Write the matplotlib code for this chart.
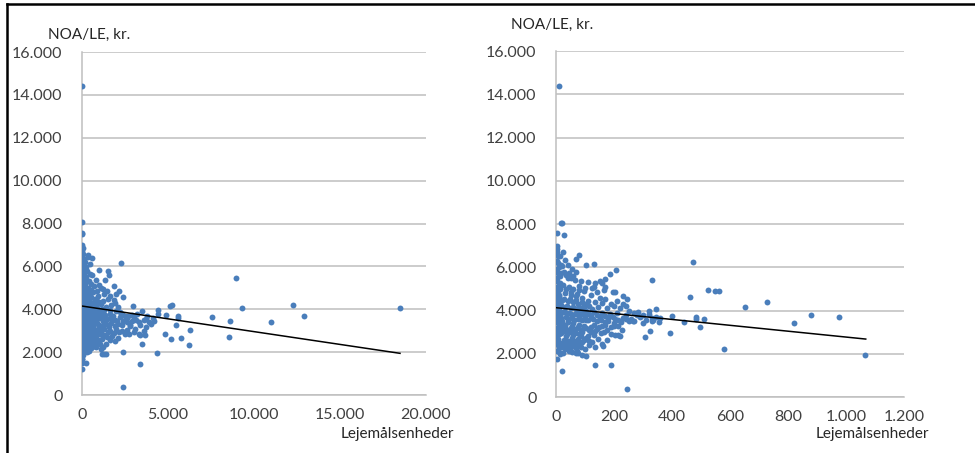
import matplotlib
matplotlib.use("Agg")
import numpy as np
from matplotlib import pyplot as plt
from matplotlib.lines import Line2D
from matplotlib.ticker import FuncFormatter, MultipleLocator

plt.rcParams["font.family"] = ["Lato", "DejaVu Sans"]

# Left panel: x = lejemålsenheder (0-20.000), y = NOA/LE kr.
left_x = [
    0, 0, 0, 20, 2250, 370, 8935, 9320, 12290, 12930, 10970, 8600, 8545, 7575, 18490,
    6260, 6220, 5775, 5195, 4805, 5465, 5580, 5560, 5210, 5090, 4860, 4440, 4440, 4380,
    3390, 3510, 3660, 2400, 2360, 230, 0, 0, 0, 1180, 1300, 1400, 1100, 2965, 2360,
    2150, 1860, 1530, 1560, 1000, 1350, 580,
    20, 30, 10, 50, 15, 40, 60, 20, 80, 10, 30, 70, 20, 50, 90, 10, 40, 60, 20, 100,
    30, 80, 15, 50, 120, 25, 70, 10, 40, 90, 20, 60, 130, 30, 80, 10, 50, 100, 20, 70,
    40, 15, 90, 30, 60, 10, 50, 20, 35, 25, 10,
    200, 300, 450, 250, 400, 600, 180, 350, 500, 700, 850, 220, 380, 550, 750, 950,
    160, 300, 480, 650, 820, 1000, 250, 420, 580, 720, 900, 180, 340, 520, 680, 860,
    1000, 260, 440, 600, 780, 950, 200, 360, 540, 700, 880, 300, 460, 620, 800, 980,
    240, 400, 560, 740, 920, 280, 450, 620, 800, 200, 380, 560, 330, 500, 700, 900,
    250, 430, 600,
    1100, 1300, 1500, 1200, 1700, 1400, 1900, 2100, 1150, 1600, 2000, 2300, 1250, 1800,
    2200, 2500, 1050, 1450, 1900, 2400, 1350, 1700, 2100, 2600, 1200, 1550, 2000, 2800,
    1100, 1500, 1850, 2300, 1300, 1750, 2500, 1150, 1600, 2100, 1400, 1900, 1250,
    2700, 3000, 3200, 3500, 3800, 4100, 2900, 3300, 3600, 3900, 4200, 2800, 3100, 3400,
    3700, 4000, 3000, 3300, 3600, 2750, 3400, 2600, 3150, 3700,
    120, 260, 520, 80, 310, 640, 900, 150, 430, 700, 1120, 60, 330, 600, 880, 1300,
    140, 400, 760, 1150, 1600, 60, 290, 530, 840, 1250, 1750, 2050, 170, 420, 660, 1000,
    1400, 1900, 2300, 90, 350, 600, 900, 1300, 1650, 2150, 180, 480, 720, 1050, 1450,
    110, 360, 650, 950, 200, 520, 800, 1050, 140, 380, 60, 270, 160, 240, 110, 350, 480,
    800, 1000, 1250, 1450, 1650, 1850, 2000, 230, 560, 180, 460, 720, 1050, 1350, 1650,
    2200, 2600, 2900,
]
left_y = [
    14400, 8050, 7550, 7500, 6170, 6515, 5470, 4045, 4210, 3685, 3420, 3470, 2690, 3640, 4075,
    3030, 2330, 2640, 2600, 2830, 3265, 3700, 3600, 4200, 4150, 3730, 3950, 3800, 1945,
    1460, 2400, 2790, 390, 2000, 1480, 1220, 1700, 1950, 1930, 1930, 1930, 2130, 4150, 4570,
    4850, 5070, 5800, 5600, 5850, 5350, 6400,
    7000, 6850, 6700, 6600, 6450, 6300, 6150, 6000, 5900, 5800, 5700, 5600, 5500, 5400, 5300,
    5200, 5100, 5000, 4900, 4800, 4700, 4600, 4500, 4400, 4300, 4200, 4100, 4000, 3900, 3800,
    3700, 3600, 3500, 3400, 3300, 3200, 3100, 3000, 2900, 2800, 2700, 2600, 2500, 2400, 2300,
    2200, 2100, 2000, 1850, 1700, 1500,
    6200, 5800, 6100, 5500, 5300, 5600, 5100, 5000, 4900, 5100, 4850, 4700, 4650, 4550, 4500,
    4600, 4400, 4350, 4300, 4250, 4200, 4350, 4100, 4050, 4000, 3950, 4050, 3900, 3850, 3800,
    3750, 3850, 3700, 3650, 3600, 3550, 3500, 3600, 3450, 3400, 3350, 3300, 3350, 3200, 3150,
    3100, 3050, 3150, 3000, 2950, 2900, 2850, 2950, 2750, 2650, 2600, 2700, 2550, 2450, 2400,
    2300, 2200, 2350, 2450, 2150, 2050, 2250,
    5000, 4700, 4500, 4400, 4200, 4100, 4300, 4100, 4000, 3950, 3900, 3800, 3800, 3700,
    3650, 3700, 3600, 3550, 3500, 3450, 3400, 3350, 3300, 3400, 3200, 3150, 3100, 3250,
    3000, 2950, 2900, 3000, 2800, 2750, 2850, 2600, 2550, 2650, 2400, 2500, 2250,
    3700, 3600, 3800, 3900, 3700, 3600, 3450, 3400, 3500, 3400, 3450, 3200, 3100, 3250,
    3150, 3300, 2950, 2850, 3000, 2850, 2800, 3050, 3500, 3550,
    5650, 5250, 5200, 4950, 4850, 4800, 4400, 4550, 4450, 4350, 4250, 4250, 4150, 4180, 3950, 3950,
    3750, 3700, 3650, 3650, 3600, 3550, 3520, 3480, 3420, 3450, 3550, 3450, 3320, 3280, 3230, 3250,
    3300, 3200, 3250, 3080, 3050, 2980, 3050, 3100, 3000, 2950, 2850, 2780, 2700, 2850, 2700,
    2620, 2580, 2500, 2550, 2350, 2320, 2250, 2400, 2100, 2150, 1950, 2000, 4950, 5950, 6350, 6450, 5650,
    5350, 5150, 4950, 4850, 4600, 4450, 4700, 4400, 4300, 4050, 3920, 3820, 3850, 3750, 3800,
    3850, 3600, 3750,
]

# Right panel: x = lejemålsenheder (0-1.200)
right_x = [
    9, 17, 21, 5, 29, 474, 80, 70, 132, 105, 206, 331, 523, 548, 563, 461, 652, 729, 879,
    977, 822, 1064, 580, 245, 190, 136, 22, 2, 393, 306, 324, 497, 482, 484, 510, 440,
    400, 345, 322, 332, 334, 355, 360, 283, 300, 270, 245, 232, 240, 205, 165, 163, 205,
    214, 222, 228, 160, 170, 185, 130, 133, 90, 105, 70, 72, 12, 22,
    2, 5, 3, 8, 2, 6, 10, 3, 7, 12, 2, 5, 9, 3, 14, 6, 2, 10, 4, 8, 15, 3, 6, 11, 2, 7,
    13, 4, 9, 2, 6, 12, 3, 8, 5, 10, 2, 7, 4, 12, 6, 9, 3, 15,
    25, 30, 40, 55, 70, 35, 50, 65, 85, 25, 45, 60, 80, 95, 30, 50, 70, 90, 20, 40, 60,
    75, 95, 30, 50, 70, 85, 25, 45, 65, 80, 100, 35, 55, 75, 90, 20, 40, 60, 80, 95, 30,
    50, 70, 85, 25, 45, 65, 80, 35, 55, 75, 95, 40, 60, 80, 30, 50, 70, 45, 25,
    110, 125, 140, 120, 150, 170, 110, 135, 160, 190, 115, 145, 175, 200, 220, 105, 130,
    160, 185, 210, 240, 120, 150, 180, 205, 230, 260, 110, 140, 170, 200, 225, 250, 130,
    160, 190, 215, 105, 140, 175, 120, 155, 190, 110, 145, 175, 125, 160, 115, 135, 100,
    265, 290, 310, 330, 270, 300, 345,
    12, 18, 28, 42, 15, 33, 52, 72, 10, 27, 48, 68, 88, 105, 18, 38, 58, 78, 98, 125,
    12, 30, 52, 72, 92, 112, 140, 170, 195, 18, 40, 62, 82, 105, 128, 155, 180, 215, 240,
    12, 32, 55, 75, 98, 120, 148, 170, 200, 22, 42, 62, 90, 112, 135, 165, 18, 38, 58,
    85, 105, 130, 28, 48, 68, 90, 115, 20, 42, 62, 85, 32, 55, 75, 18, 22, 45, 60, 80,
    100, 150, 170, 195, 210, 230, 250, 280, 320,
]
right_y = [
    14370, 8060, 8060, 7600, 7505, 6240, 6550, 6400, 6150, 6100, 5870, 5400, 4950, 4900,
    4900, 4610, 4150, 4390, 3790, 3700, 3405, 1940, 2200, 370, 1465, 1465, 1200, 1760,
    2975, 2790, 3050, 3220, 3680, 3600, 3620, 3450, 3750, 4060, 4000, 3650, 3550, 3450,
    3650, 3950, 3800, 3500, 4550, 4650, 4200, 4850, 4930, 2350, 2850, 2850, 2820, 3080,
    5250, 5450, 5700, 5100, 5250, 1950, 1880, 2050, 2150, 2050, 2300,
    7000, 6850, 6700, 6500, 6300, 6200, 6000, 5900, 5750, 5600, 5500, 5350, 5200, 5100,
    5000, 4900, 4800, 4700, 4600, 4500, 4400, 4300, 4200, 4100, 4000, 3900, 3800, 3700,
    3600, 3500, 3400, 3300, 3200, 3100, 3000, 2900, 2850, 2700, 2600, 2500, 2400, 2250,
    2150, 2000,
    6700, 6350, 6100, 5900, 5800, 5650, 5500, 5400, 5350, 5200, 5100, 5000, 4950, 4900,
    4800, 4700, 4650, 4600, 4500, 4450, 4400, 4300, 4250, 4150, 4100, 4050, 4000, 3950,
    3900, 3850, 3800, 3750, 3700, 3650, 3600, 3550, 3500, 3450, 3400, 3350, 3300, 3250,
    3200, 3150, 3100, 3050, 3000, 2950, 2900, 2800, 2750, 2700, 2650, 2600, 2500, 2450,
    2400, 2300, 2250, 2150, 2050,
    5300, 5050, 4850, 4700, 4600, 4550, 4450, 4400, 4350, 4300, 4200, 4150, 4100, 4200,
    4100, 4000, 3950, 3900, 3850, 3900, 3800, 3750, 3700, 3650, 3600, 3650, 3600, 3550,
    3500, 3450, 3400, 3450, 3500, 3350, 3300, 3250, 3300, 3200, 3150, 3100, 3000, 2950,
    2900, 2800, 2700, 2650, 2550, 2450, 2400, 2300, 2200,
    3500, 3700, 3550, 3500, 3900, 3400, 3700,
    6500, 6100, 5800, 5500, 5250, 5000, 4850, 4750, 4650, 4550, 4550, 4500, 4400, 4300,
    4250, 4200, 4150, 4150, 4100, 4050, 3950, 3950, 3850, 3900, 3850, 3850, 3800, 3750,
    3700, 3650, 3600, 3550, 3600, 3550, 3600, 3550, 3500, 3550, 3600, 3400, 3350, 3300,
    3250, 3200, 3250, 3250, 3350, 3300, 3150, 3100, 3050, 3000, 3100, 3050, 3000, 2950,
    2900, 2850, 2800, 2750, 2850, 2650, 2550, 2600, 2550, 2600, 2450, 2350, 2400, 2300,
    2200, 2100, 2050, 5750, 6050, 5750, 5600, 5150, 5050, 5350, 5100, 4850, 4450, 4300,
    4000, 3800, 3850,
]

# linear trend lines (intercept, slope, end x)
left_trend = (4150, -0.1193, 18490)
right_trend = (4130, -1.358, 1068)

y_ticks = [0, 2000, 4000, 6000, 8000, 10000, 12000, 14000, 16000]
dot_color = "#4A7EBB"
grid_color = "#BFBFBF"


def thousands(v, _pos):
    return f"{int(round(v)):,}".replace(",", ".")


fig = plt.figure(figsize=(9.75, 4.53), dpi=100)
ax1 = fig.add_axes([0.0841, 0.1280, 0.3528, 0.7572])
ax2 = fig.add_axes([0.5703, 0.1236, 0.3569, 0.7638])

panels = [
    (ax1, left_x, left_y, left_trend, 20000, 5000),
    (ax2, right_x, right_y, right_trend, 1200, 200),
]
for ax, xs, ys, trend, xmax, xstep in panels:
    ax.scatter(xs, ys, s=18, color=dot_color, linewidths=0, zorder=3)
    b, m, xend = trend
    tx = np.array([0, xend])
    ax.plot(tx, b + m * tx, color="black", lw=1.1, zorder=4)
    ax.set_xlim(0, xmax)
    ax.set_ylim(0, 16000)
    ax.set_yticks(y_ticks)
    ax.xaxis.set_major_locator(MultipleLocator(xstep))
    ax.xaxis.set_major_formatter(FuncFormatter(thousands))
    ax.yaxis.set_major_formatter(FuncFormatter(thousands))
    ax.grid(axis="y", color=grid_color, lw=1.1, zorder=0)
    ax.set_axisbelow(True)
    for side in ["top", "right"]:
        ax.spines[side].set_visible(False)
    for side in ["left", "bottom"]:
        ax.spines[side].set_color(grid_color)
        ax.spines[side].set_linewidth(1.1)
    ax.tick_params(length=0, labelsize=11.5, colors="#404040")
    ax.tick_params(axis="y", pad=14)
    ax.tick_params(axis="x", pad=9)

fig.text(48 / 975, 1 - 35 / 453, "NOA/LE, kr.", fontsize=11, color="#262626",
         va="center", ha="left")
fig.text(511 / 975, 1 - 25 / 453, "NOA/LE, kr.", fontsize=11, color="#262626",
         va="center", ha="left")
fig.text(454 / 975, 1 - 434 / 453, "Lejemålsenheder", fontsize=11, color="#262626",
         va="center", ha="right")
fig.text(929 / 975, 1 - 434 / 453, "Lejemålsenheder", fontsize=11, color="#262626",
         va="center", ha="right")

# frame lines at top and left of the picture
fig.add_artist(Line2D([7 / 975, 1], [1 - 4 / 453, 1 - 4 / 453], color="black", lw=1.8,
                      transform=fig.transFigure))
fig.add_artist(Line2D([7 / 975, 7 / 975], [0, 1 - 4 / 453], color="black", lw=1.8,
                      transform=fig.transFigure))

fig.savefig("out.png", dpi=100)
